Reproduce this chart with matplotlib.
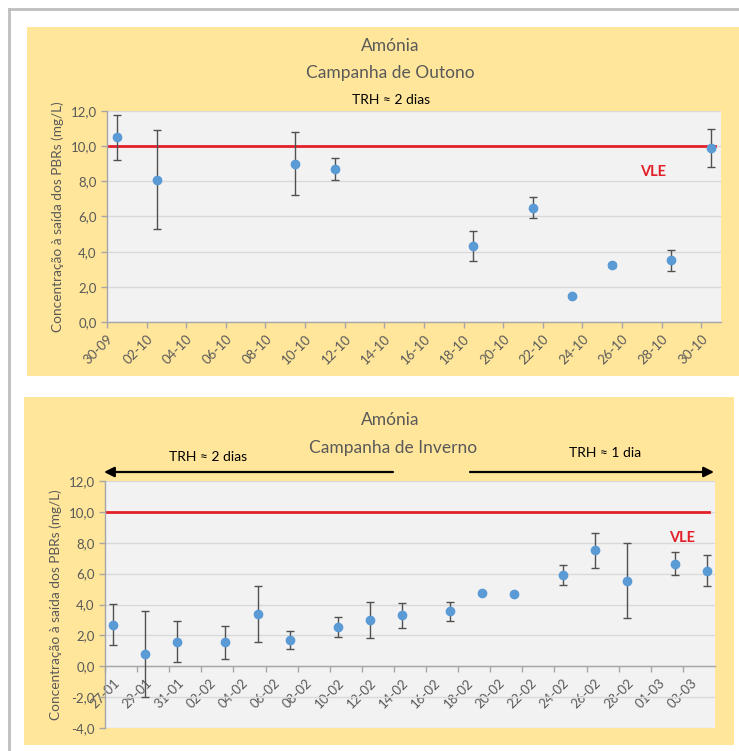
import matplotlib
matplotlib.use("Agg")
import matplotlib.pyplot as plt
import matplotlib.dates as mdates
from matplotlib.patches import Rectangle, FancyArrowPatch
from matplotlib.lines import Line2D
from matplotlib.ticker import FuncFormatter, FixedLocator
import pandas as pd

# Autumn campaign (TRH ~ 2 days)
autumn_dates = ["2015-09-30", "2015-10-02", "2015-10-09", "2015-10-11", "2015-10-18",
                "2015-10-21", "2015-10-23", "2015-10-25", "2015-10-28", "2015-10-30"]
autumn_values = [10.5, 8.1, 9.0, 8.7, 4.3, 6.5, 1.5, 3.25, 3.5, 9.9]
autumn_errors = [1.3, 2.8, 1.8, 0.65, 0.85, 0.6, 0.0, 0.12, 0.6, 1.1]

# Winter campaign (TRH ~ 2 days, then ~ 1 day)
winter_dates = ["2016-01-27", "2016-01-29", "2016-01-31", "2016-02-03", "2016-02-05",
                "2016-02-07", "2016-02-10", "2016-02-12", "2016-02-14", "2016-02-17",
                "2016-02-19", "2016-02-21", "2016-02-24", "2016-02-26", "2016-02-28",
                "2016-03-02", "2016-03-04"]
winter_values = [2.7, 0.8, 1.6, 1.55, 3.4, 1.7, 2.55, 3.0, 3.3, 3.55,
                 4.75, 4.7, 5.9, 7.5, 5.55, 6.65, 6.2]
winter_errors = [1.33, 2.8, 1.34, 1.08, 1.8, 0.6, 0.65, 1.18, 0.8, 0.6,
                 0.0, 0.0, 0.63, 1.12, 2.45, 0.75, 1.0]

vle_limit = 10.0
y_label = "Concentração à saída dos PBRs (mg/L)"

W, H = 739, 751
plt.rcParams["font.family"] = ["Lato", "DejaVu Sans"]

fig = plt.figure(figsize=(W / 100, H / 100), dpi=100)
fig.patch.set_facecolor("white")

YELLOW = "#FFE69B"
PLOT_BG = "#F2F2F2"
GRID = "#D9D9D9"
TEXT = "#595959"
BLUE = "#5B9BD5"
RED = "#E3202A"


def px_rect(x0, y0, x1, y1, **kw):
    fig.add_artist(Rectangle((x0 / W, 1 - y1 / H), (x1 - x0) / W, (y1 - y0) / H,
                             transform=fig.transFigure, zorder=-10, **kw))


def px_axes(x0, y0, x1, y1):
    return fig.add_axes([x0 / W, 1 - y1 / H, (x1 - x0) / W, (y1 - y0) / H])


def px_text(x, y, s, **kw):
    fig.text(x / W, 1 - y / H, s, ha="center", va="center", **kw)


# outer frame and the two chart panels
fig.add_artist(Line2D([9 / W, 9 / W], [0, 1 - 9 / H], color="#BEBEBE", lw=2,
                      transform=fig.transFigure, zorder=-10))
fig.add_artist(Line2D([9 / W, 1], [1 - 9 / H, 1 - 9 / H], color="#BEBEBE", lw=2,
                      transform=fig.transFigure, zorder=-10))
px_rect(27, 27, 745, 376, facecolor=YELLOW, edgecolor="none")
px_rect(24, 397, 734, 745, facecolor=YELLOW, edgecolor="none")


def style_axes(ax, dates, values, errors, start, end, ymin, ymax):
    x = pd.to_datetime(dates) + pd.Timedelta(hours=12)
    ax.errorbar(x, values, yerr=errors, fmt="o", color=BLUE, ms=6, mec=BLUE,
                ecolor="#505050", elinewidth=1, capsize=3, capthick=1, zorder=3)
    ax.axhline(vle_limit, xmin=0, xmax=0.99, color=RED, lw=2, zorder=2)

    ax.set_facecolor(PLOT_BG)
    ax.set_xlim(pd.Timestamp(start), pd.Timestamp(end))
    ax.set_ylim(ymin, ymax)
    ax.set_yticks(range(ymin, ymax + 1, 2))
    ax.yaxis.set_major_formatter(
        FuncFormatter(lambda v, p: f"{v:.1f}".replace(".", ",")))
    ticks = [t for t in pd.date_range(start, end, freq="2D") if t < pd.Timestamp(end)]
    ax.xaxis.set_major_locator(FixedLocator(mdates.date2num(ticks)))
    ax.xaxis.set_major_formatter(mdates.DateFormatter("%d-%m"))
    ax.grid(axis="y", color=GRID, lw=1)
    ax.set_axisbelow(True)
    for s in ("top", "right"):
        ax.spines[s].set_visible(False)
    for s in ("left", "bottom"):
        ax.spines[s].set_color("#A6A6A6")
        ax.spines[s].set_linewidth(1)
    ax.tick_params(axis="both", colors="#A6A6A6", labelcolor=TEXT, labelsize=9.5,
                   length=4, width=1)
    ax.tick_params(axis="x", labelrotation=45)
    plt.setp(ax.get_xticklabels(), ha="right", rotation_mode="anchor")
    ax.set_ylabel(y_label, color=TEXT, fontsize=9.8, labelpad=5)


# Autumn chart
ax1 = px_axes(107, 111, 721, 322)
style_axes(ax1, autumn_dates, autumn_values, autumn_errors,
           "2015-09-30", "2015-10-31", 0, 12)
ax1.text(pd.Timestamp("2015-10-27 14:00"), 8.55, "VLE", color=RED, fontsize=10.5,
         fontweight="bold", ha="center", va="center")
px_text(390, 46, "Amónia", color=TEXT, fontsize=12.5)
px_text(390, 73, "Campanha de Outono", color=TEXT, fontsize=12.5)
px_text(391, 100, "TRH ≈ 2 dias", color="black", fontsize=10)

# Winter chart
ax2 = px_axes(105, 481, 715, 728)
style_axes(ax2, winter_dates, winter_values, winter_errors,
           "2016-01-27", "2016-03-05", -4, 12)
ax2.spines["bottom"].set_position(("data", 0))
ax2.text(pd.Timestamp("2016-03-02 23:00"), 8.3, "VLE", color=RED, fontsize=10.5,
         fontweight="bold", ha="center", va="center")
px_text(390, 420, "Amónia", color=TEXT, fontsize=12.5)
px_text(393, 448, "Campanha de Inverno", color=TEXT, fontsize=12.5)
px_text(208, 457, "TRH ≈ 2 dias", color="black", fontsize=10)
px_text(605, 453, "TRH ≈ 1 dia", color="black", fontsize=10)
for x0, x1 in ((393, 104), (470, 714)):
    fig.add_artist(FancyArrowPatch(
        (x0 / W, 1 - 472 / H), (x1 / W, 1 - 472 / H), transform=fig.transFigure,
        arrowstyle="-|>,head_length=6,head_width=3", color="black", lw=1.6,
        shrinkA=0, shrinkB=0))

fig.savefig("out.png", dpi=100, facecolor="white")
